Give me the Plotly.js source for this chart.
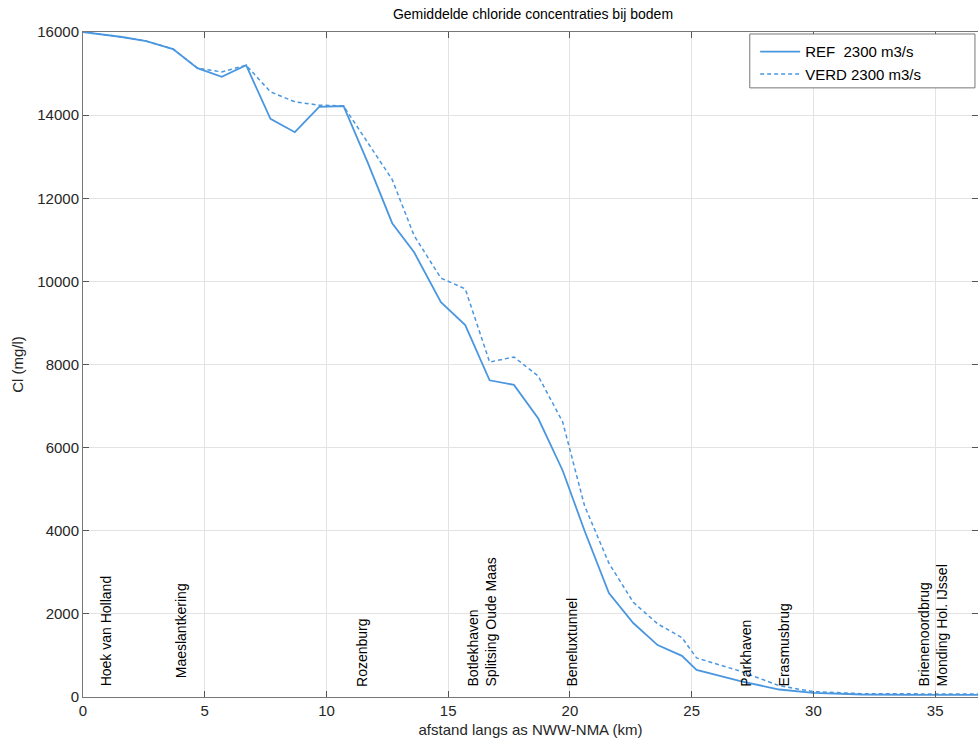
<!DOCTYPE html>
<html>
<head>
<meta charset="utf-8">
<script src="https://cdn.plot.ly/plotly-3.0.1.min.js"></script>
<style>html,body{margin:0;padding:0;background:#fff;}#chart{width:978px;height:743px;}</style>
</head>
<body>
<div id="chart"></div>
<script>
// Distance along NWW-NMA axis (km)
const distKm = [0, 1.6, 2.6, 3.7, 4.7, 5.7, 6.7, 7.7, 8.7, 9.7, 10.7, 11.7, 12.7, 13.6, 14.7, 15.7, 16.7, 17.7, 18.7, 19.7, 20.6, 21.6, 22.6, 23.6, 24.6, 25.2, 27.0, 28.6, 30.0, 32.0, 34.0, 37.0];
// Chloride concentration at bottom (mg/l)
const refCl  = [16000, 15880, 15780, 15590, 15130, 14920, 15200, 13910, 13590, 14200, 14220, 12850, 11400, 10700, 9500, 8950, 7620, 7510, 6700, 5450, 4000, 2500, 1780, 1250, 990, 650, 380, 180, 100, 60, 50, 50];
const verdCl = [16000, 15880, 15780, 15590, 15130, 15040, 15200, 14560, 14320, 14240, 14220, 13350, 12450, 11100, 10080, 9820, 8060, 8180, 7720, 6620, 4600, 3220, 2280, 1760, 1430, 940, 620, 270, 130, 80, 70, 70];
const seriesNames = ["REF  2300 m3/s", "VERD 2300 m3/s"];
// Location labels along the river
const locNames = ["Hoek van Holland", "Maeslantkering", "Rozenburg", "Botlekhaven<br>Splitsing Oude Maas", "Beneluxtunnel", "Parkhaven", "Erasmusbrug", "Brienenoordbrug<br>Monding Hol. IJssel"];
const locKm    = [0.95, 4.0, 11.45, 16.4, 20.1, 27.25, 28.8, 34.9];
const locY     = [200, 400, 200, 200, 200, 200, 200, 200];
const xTicks = [0, 5, 10, 15, 20, 25, 30, 35];
const yTicks = [0, 2000, 4000, 6000, 8000, 10000, 12000, 14000, 16000];

const lineColor = "#4a97e0";
const fontFam = "Liberation Sans, Arial, sans-serif";

const traces = [
  {x: distKm, y: refCl, name: seriesNames[0], type: "scatter", mode: "lines",
   line: {color: lineColor, width: 1.8, dash: "solid"}},
  {x: distKm, y: verdCl, name: seriesNames[1], type: "scatter", mode: "lines",
   line: {color: lineColor, width: 1.5, dash: "4px,3px"}}
];

const annotations = locNames.map((t, i) => ({
  x: locKm[i], y: locY[i], xref: "x", yref: "y", text: t, showarrow: false,
  textangle: -90, xanchor: "center", yanchor: "bottom",
  font: {family: fontFam, size: 14, color: "#000"}, align: "left"
}));

const layout = {
  width: 978, height: 743,
  margin: {l: 83, r: 0, t: 32, b: 46, autoexpand: false},
  paper_bgcolor: "#fff", plot_bgcolor: "#fff",
  font: {family: fontFam, color: "#262626"},
  title: {text: "Gemiddelde chloride concentraties bij bodem", font: {size: 14, color: "#000", family: fontFam},
          x: 533/978, xref: "container", xanchor: "center", y: 1 - 14/743, yref: "container", yanchor: "middle"},
  xaxis: {range: [0, 36.76], tickvals: xTicks, ticks: "inside", ticklen: 6, tickcolor: "#555",
          showgrid: true, gridcolor: "#e3e3e3", gridwidth: 1, zeroline: false,
          showline: true, linecolor: "#777", linewidth: 1, mirror: "ticks",
          tickfont: {size: 15, color: "#262626"},
          title: {text: "afstand langs as NWW-NMA (km)", font: {size: 15, color: "#262626"}, standoff: 6}},
  yaxis: {range: [0, 16000], tickvals: yTicks, tickformat: "d", ticks: "inside", ticklen: 6, tickcolor: "#555",
          showgrid: true, gridcolor: "#e3e3e3", gridwidth: 1, zeroline: false,
          showline: true, linecolor: "#777", linewidth: 1, mirror: "ticks",
          tickfont: {size: 15, color: "#262626"},
          title: {text: "Cl (mg/l)", font: {size: 15, color: "#262626"}, standoff: 10}},
  shapes: [{type: "rect", xref: "paper", yref: "paper", x0: 0.745, x1: 0.9966, y0: 0.916, y1: 0.997,
            line: {color: "#777", width: 1}, fillcolor: "#fff", layer: "above"}],
  legend: {x: 0.751, xref: "paper", xanchor: "left", y: 0.995, yref: "paper", yanchor: "top",
           bgcolor: "rgba(0,0,0,0)", borderwidth: 0, itemwidth: 40,
           font: {size: 15, color: "#000", family: fontFam}, tracegroupgap: 0},
  annotations: annotations,
  showlegend: true
};

Plotly.newPlot("chart", traces, layout, {displayModeBar: false, staticPlot: true});
</script>
</body>
</html>
